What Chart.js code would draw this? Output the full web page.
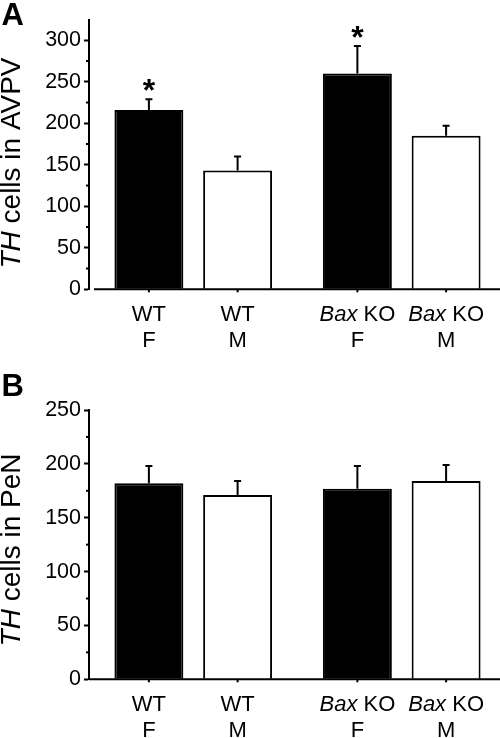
<!DOCTYPE html>
<html><head><meta charset="utf-8">
<script src="https://cdn.jsdelivr.net/npm/chart.js@4.4.1/dist/chart.umd.min.js"></script>
<style>
html,body{margin:0;padding:0;background:#fff;overflow:hidden;width:500px;height:738px;position:relative;}
canvas{position:absolute;left:0;}
#cA{top:0;} #cB{top:370px;}
</style></head><body>
<canvas id="cA" width="510" height="370"></canvas>
<canvas id="cB" width="510" height="368"></canvas>
<script>
// ---- data ----
const genotypes = ['WT', 'Bax KO'];
const italicWords = ['Bax'];
const sexes = ['F', 'M'];

// Panel A: TH cells in AVPV
const avpvF = [216, 260];
const avpvM = [143, 185];
const avpvErrF = [13, 33];
const avpvErrM = [17, 12];
const avpvSigF = ['*', '*'];
const avpvSigM = ['', ''];
const avpvMax = 325;
const avpvTicks = [0, 50, 100, 150, 200, 250, 300];

// Panel B: TH cells in PeN
const penF = [182, 177];
const penM = [171, 184];
const penErrF = [16, 21];
const penErrM = [13, 15];
const penSigF = ['', ''];
const penSigM = ['', ''];
const penMax = 250;
const penTicks = [0, 50, 100, 150, 200, 250];

const FAM = '"Liberation Sans", Arial, Helvetica, sans-serif';
Chart.defaults.font.family = FAM;
Chart.defaults.color = '#000';

function drawMixed(ctx, parts, x, y, size, align) {
  let total = 0;
  parts.forEach(p => { ctx.font = (p.it ? 'italic ' : '') + size + 'px ' + FAM; total += ctx.measureText(p.t).width; });
  let cx = align === 'center' ? x - total / 2 : x;
  parts.forEach(p => {
    ctx.font = (p.it ? 'italic ' : '') + size + 'px ' + FAM;
    ctx.textAlign = 'left';
    ctx.fillText(p.t, cx, y);
    cx += ctx.measureText(p.t).width;
  });
}
function splitItalic(str) {
  const words = str.split(' ');
  return words.map((w, i) => ({ t: (i > 0 ? ' ' : '') + w, it: italicWords.includes(w) }));
}

const panelPlugin = {
  id: 'panel',
  afterDatasetsDraw(chart, args, o) {
    const ctx = chart.ctx, ys = chart.scales.y;
    ctx.save();
    chart.data.datasets.forEach((ds, di) => {
      const meta = chart.getDatasetMeta(di);
      meta.data.forEach((el, i) => {
        const v = ds.data[i], e = o.errs[di][i];
        const yt = ys.getPixelForValue(v + e);
        ctx.strokeStyle = '#000';
        ctx.lineWidth = 2;
        ctx.beginPath();
        ctx.moveTo(el.x, el.y);
        ctx.lineTo(el.x, yt);
        ctx.moveTo(el.x - 3.5, yt);
        ctx.lineTo(el.x + 3.5, yt);
        ctx.stroke();
        const s = o.sigs[di][i];
        if (s) {
          ctx.font = 'bold 32px ' + FAM;
          ctx.textAlign = 'center';
          ctx.textBaseline = 'alphabetic';
          const m = ctx.measureText(s);
          const cy = yt - 14.5;
          const base = cy + (m.actualBoundingBoxAscent - m.actualBoundingBoxDescent) / 2;
          ctx.fillStyle = '#000';
          ctx.fillText(s, el.x, base);
        }
      });
    });
    ctx.restore();
  },
  afterDraw(chart, args, o) {
    const ctx = chart.ctx, ca = chart.chartArea, ys = chart.scales.y;
    ctx.save();
    ctx.fillStyle = '#000';
    ctx.strokeStyle = '#000';
    // x axis line
    ctx.lineWidth = 2;
    ctx.beginPath();
    ctx.moveTo(ca.left + o.xGap, ca.bottom);
    ctx.lineTo(chart.width, ca.bottom);
    ctx.stroke();
    // minor y ticks
    for (let v = 25; v < o.max; v += 50) {
      const py = ys.getPixelForValue(v);
      ctx.beginPath();
      ctx.moveTo(ca.left - 3, py);
      ctx.lineTo(ca.left, py);
      ctx.stroke();
    }
    // x ticks and labels
    ctx.textBaseline = 'middle';
    chart.data.datasets.forEach((ds, di) => {
      const meta = chart.getDatasetMeta(di);
      meta.data.forEach((el, i) => {
        ctx.beginPath();
        ctx.moveTo(el.x, ca.bottom);
        ctx.lineTo(el.x, ca.bottom + 3);
        ctx.stroke();
        drawMixed(ctx, splitItalic(chart.data.labels[i]), el.x, ca.bottom + 25.5, 22, 'center');
        drawMixed(ctx, [{ t: ds.label, it: false }], el.x, ca.bottom + 52, 22, 'center');
      });
    });
    // y title
    ctx.save();
    ctx.translate(20, o.titleY);
    ctx.rotate(-Math.PI / 2);
    ctx.textBaseline = 'alphabetic';
    drawMixed(ctx, o.title, 0, 0, 28, 'center');
    ctx.restore();
    // panel letter
    ctx.font = 'bold 31px ' + FAM;
    ctx.textAlign = 'left';
    ctx.textBaseline = 'alphabetic';
    ctx.fillText(o.letter, 1.5, o.letterY);
    ctx.restore();
  }
};

function makePanel(id, dataF, dataM, errF, errM, sigF, sigM, max, tickVals, pad, title, titleY, letter, letterY, xGap) {
  return new Chart(document.getElementById(id), {
    type: 'bar',
    data: {
      labels: genotypes,
      datasets: [
        { label: sexes[0], data: dataF, backgroundColor: '#000', borderColor: '#000', borderWidth: 2 },
        { label: sexes[1], data: dataM, backgroundColor: '#fff', borderColor: '#000', borderWidth: 2 }
      ]
    },
    options: {
      responsive: false,
      animation: false,
      devicePixelRatio: 1,
      layout: { padding: pad },
      datasets: { bar: { categoryPercentage: 0.851, barPercentage: 0.777 } },
      plugins: {
        legend: { display: false },
        tooltip: { enabled: false },
        panel: { errs: [errF, errM], sigs: [sigF, sigM], max, title, titleY, letter, letterY, xGap }
      },
      scales: {
        x: { display: false },
        y: {
          min: 0, max: max,
          afterFit(s) { s.width = 89; },
          afterBuildTicks(s) { s.ticks = tickVals.map(v => ({ value: v })); },
          ticks: { padding: 3, color: '#000', font: { size: 21.5 } },
          grid: { drawOnChartArea: false, drawTicks: true, tickLength: 5, tickWidth: 2, tickColor: '#000', color: '#000' },
          border: { display: true, color: '#000', width: 2 }
        }
      }
    },
    plugins: [panelPlugin]
  });
}

makePanel('cA', avpvF, avpvM, avpvErrF, avpvErrM, avpvSigF, avpvSigM, avpvMax, avpvTicks,
  { top: 19.5, bottom: 80.7, left: 0, right: 4 },
  [{ t: 'TH', it: true }, { t: ' cells in AVPV', it: false }], 163, 'A', 24.5, 5);
makePanel('cB', penF, penM, penErrF, penErrM, penSigF, penSigM, penMax, penTicks,
  { top: 40, bottom: 58.7, left: 0, right: 4 },
  [{ t: 'TH', it: true }, { t: ' cells in PeN', it: false }], 180, 'B', 25.5, 0);
</script>
</body></html>
